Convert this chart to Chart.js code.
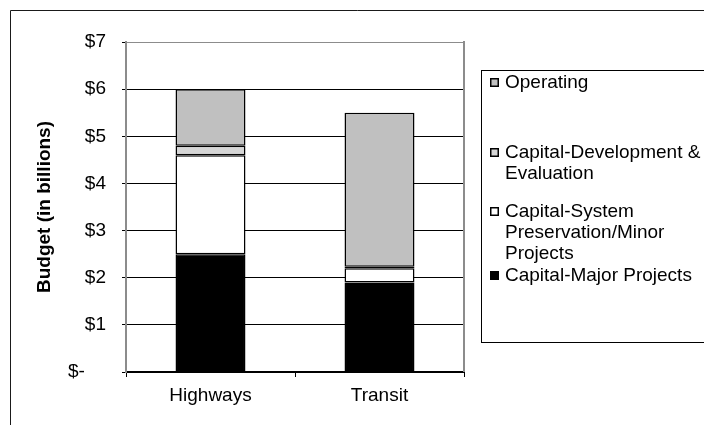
<!DOCTYPE html>
<html>
<head>
<meta charset="utf-8">
<script src="https://cdn.jsdelivr.net/npm/chart.js@4/dist/chart.umd.min.js"></script>
<style>
  html, body { margin: 0; padding: 0; background: #fff; }
  canvas { display: block; }
</style>
</head>
<body>
<canvas id="budget" width="704" height="425"></canvas>
<script>
// Budget by mode, in billions of dollars (stack order: bottom to top)
const categories = ['Highways', 'Transit'];
const majorProjects = [2.5, 1.9];
const systemPreservation = [2.1, 0.3];
const developmentEvaluation = [0.2, 0.03];
const operating = [1.2, 3.27];
const tickLabels = ['$-    ', '$1', '$2', '$3', '$4', '$5', '$6', '$7'];
const seriesNames = [
  'Capital-Major Projects',
  'Capital-System Preservation/Minor Projects',
  'Capital-Development & Evaluation',
  'Operating'
];
const seriesData = [majorProjects, systemPreservation, developmentEvaluation, operating];
const seriesColors = ['#000000', '#ffffff', '#d6d6d6', '#c0c0c0'];

const FONT = '"Liberation Sans", Arial, sans-serif';
const FONT_SIZE = 19;

// Outer frame and the gray right edge of the plot area
const framePlugin = {
  id: 'frame',
  beforeDraw(chart) {
    const ctx = chart.ctx;
    ctx.save();
    ctx.fillStyle = '#fff';
    ctx.fillRect(0, 0, chart.width, chart.height);
    ctx.strokeStyle = '#1a1a1a';
    ctx.lineWidth = 1;
    ctx.beginPath();
    ctx.moveTo(10.5, chart.height);
    ctx.lineTo(10.5, 10.5);
    ctx.lineTo(chart.width, 10.5);
    ctx.stroke();
    ctx.restore();
  },
  beforeDatasetsDraw(chart) {
    const a = chart.chartArea;
    const ctx = chart.ctx;
    ctx.save();
    ctx.strokeStyle = '#8c8c8c';
    ctx.lineWidth = 2;
    ctx.beginPath();
    ctx.moveTo(Math.round(a.right), a.top - 1);
    ctx.lineTo(Math.round(a.right), a.bottom);
    ctx.stroke();
    ctx.restore();
  }
};

function wrapText(ctx, text, maxWidth) {
  const words = text.split(' ');
  const lines = [];
  let line = '';
  words.forEach(w => {
    const test = line ? line + ' ' + w : w;
    if (line && ctx.measureText(test).width > maxWidth) {
      lines.push(line);
      line = w;
    } else {
      line = test;
    }
  });
  if (line) lines.push(line);
  return lines;
}

// Boxed legend on the right, listed top of stack first
const legendPlugin = {
  id: 'boxLegend',
  afterDraw(chart) {
    const ctx = chart.ctx;
    const itemY = [83, 153, 212, 276];
    const lineStep = 21;
    ctx.save();
    ctx.strokeStyle = '#000';
    ctx.lineWidth = 1;
    ctx.strokeRect(481.5, 70.5, 400, 272);
    ctx.font = FONT_SIZE + 'px ' + FONT;
    ctx.textBaseline = 'middle';
    const items = chart.data.datasets.slice().reverse();
    items.forEach((ds, i) => {
      const y = itemY[i];
      ctx.fillStyle = ds.backgroundColor;
      ctx.fillRect(490, y - 5, 9, 9);
      ctx.strokeStyle = '#000';
      ctx.lineWidth = 1.5;
      ctx.strokeRect(490.75, y - 4.25, 7.5, 7.5);
      ctx.fillStyle = '#000';
      wrapText(ctx, ds.label, 208).forEach((ln, k) => {
        ctx.fillText(ln, 505, y + k * lineStep);
      });
    });
    ctx.restore();
  }
};

new Chart(document.getElementById('budget'), {
  type: 'bar',
  data: {
    labels: categories,
    datasets: seriesNames.map((name, i) => ({
      label: name,
      data: seriesData[i],
      backgroundColor: seriesColors[i],
      borderColor: '#000',
      borderWidth: 1.5,
      borderSkipped: false,
      categoryPercentage: 1,
      barPercentage: 0.414
    }))
  },
  options: {
    responsive: false,
    animation: false,
    events: [],
    layout: { padding: { top: 42, right: 240, left: 0, bottom: 0 } },
    plugins: {
      legend: { display: false },
      tooltip: { enabled: false }
    },
    scales: {
      x: {
        stacked: true,
        grid: { drawOnChartArea: false, drawTicks: true, tickLength: 5, tickColor: '#000', offset: true },
        border: { color: '#000', width: 2 },
        ticks: { color: '#000', font: { family: FONT, size: FONT_SIZE }, padding: 7 },
        afterFit(s) { s.height = 53; }
      },
      y: {
        stacked: true,
        min: 0,
        max: 7,
        ticks: {
          stepSize: 1,
          color: '#000',
          font: { family: FONT, size: FONT_SIZE },
          padding: 16,
          callback: v => tickLabels[v]
        },
        grid: {
          color: c => (c.tick && c.tick.value === 7 ? '#8c8c8c' : '#000'),
          tickColor: '#000',
          tickLength: 4,
          lineWidth: 1
        },
        border: { color: '#8c8c8c', width: 2 },
        title: {
          display: true,
          text: 'Budget (in billions)',
          color: '#000',
          font: { family: FONT, size: FONT_SIZE, weight: 'bold' },
          padding: { top: 33, bottom: 0 }
        },
        afterFit(s) { s.width = 126; }
      }
    }
  },
  plugins: [framePlugin, legendPlugin]
});
</script>
</body>
</html>
